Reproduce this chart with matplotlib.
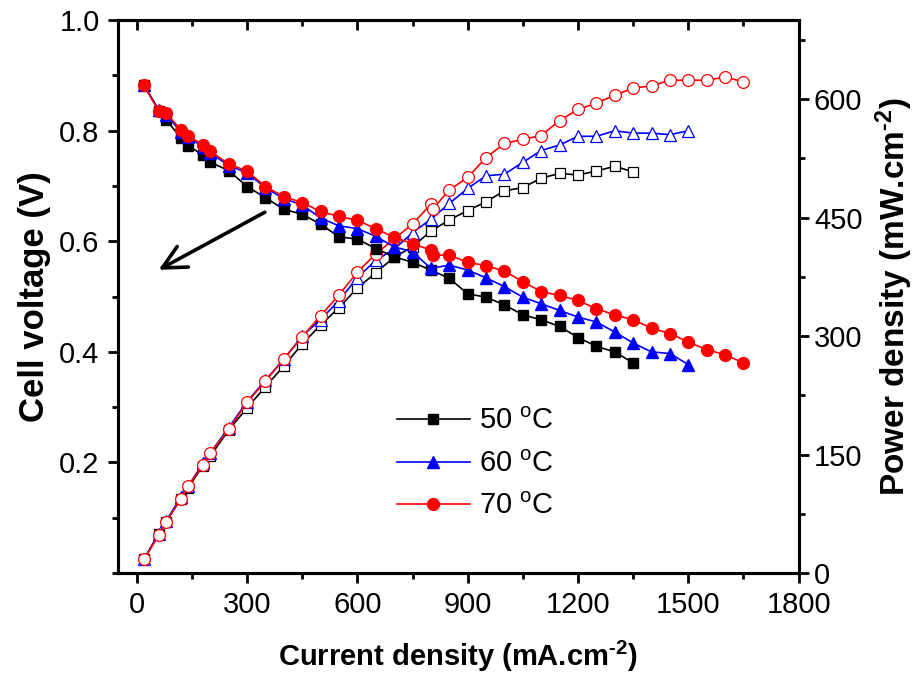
import matplotlib
matplotlib.use('Agg')
import matplotlib.pyplot as plt
from matplotlib.ticker import MultipleLocator

plt.rcParams['font.family'] = ['Liberation Sans', 'DejaVu Sans']
plt.rcParams['mathtext.default'] = 'regular'

# current density (mA/cm2)
i_50 = [20, 60, 80, 120, 140, 180, 200, 250, 300, 350, 400, 450, 500, 550, 600,
        650, 700, 750, 800, 850, 900, 950, 1000, 1050, 1100, 1150, 1200, 1250, 1300, 1350]
i_60 = i_50 + [1400, 1450, 1500]
i_70 = [20, 60, 80, 120, 140, 180, 200, 250, 300, 350, 400, 450, 500, 550, 600,
        650, 700, 750, 800, 805, 850, 900, 950, 1000, 1050, 1100, 1150, 1200, 1250,
        1300, 1350, 1400, 1450, 1500, 1550, 1600, 1650]

# cell voltage (V)
v_50 = [0.882, 0.836, 0.820, 0.787, 0.772, 0.757, 0.743, 0.728, 0.699, 0.679, 0.658,
        0.649, 0.631, 0.608, 0.604, 0.587, 0.572, 0.562, 0.548, 0.533, 0.505, 0.499,
        0.485, 0.467, 0.458, 0.446, 0.426, 0.410, 0.400, 0.380]
v_60 = [0.882, 0.838, 0.829, 0.798, 0.788, 0.771, 0.760, 0.737, 0.724, 0.697, 0.677,
        0.666, 0.642, 0.628, 0.623, 0.609, 0.590, 0.581, 0.551, 0.557, 0.548, 0.534,
        0.518, 0.499, 0.487, 0.475, 0.463, 0.454, 0.436, 0.416, 0.400, 0.397, 0.377]
v_70 = [0.882, 0.835, 0.832, 0.802, 0.790, 0.775, 0.763, 0.740, 0.727, 0.699, 0.681,
        0.670, 0.654, 0.645, 0.638, 0.623, 0.607, 0.596, 0.584, 0.575, 0.575, 0.562,
        0.556, 0.546, 0.527, 0.509, 0.502, 0.493, 0.478, 0.467, 0.458, 0.443, 0.433,
        0.418, 0.404, 0.395, 0.380]

# power density (mW/cm2)
p_50 = [17.5, 50, 65, 94, 108, 136, 148, 181, 209, 236, 262, 290, 314, 336, 361,
        380, 400, 413, 433, 447, 459, 470, 484, 488, 500, 506, 504, 509, 515, 508]
p_60 = [17.6, 50, 66, 96, 110, 139, 152, 184, 217, 244, 271, 300, 321, 345, 374,
        396, 410, 431, 448, 468, 487, 503, 505, 520, 535, 542, 553, 553, 560, 557,
        557, 555, 560]
p_70 = [17.5, 48, 65, 94, 110, 137, 152, 182, 216, 243, 271, 299, 326, 352, 381,
        404, 423, 442, 467, 461, 485, 501, 526, 544, 549, 554, 573, 587, 595, 605,
        614, 617, 624, 624, 624, 628, 622]

labels = ['50 $^{o}$C', '60 $^{o}$C', '70 $^{o}$C']
colors = ['black', '#0000ff', '#ff0000']
markers = ['s', '^', 'o']

fig = plt.figure(figsize=(9.19, 6.85), dpi=100)
ax = fig.add_axes([0.128, 0.1635, 0.741, 0.807])
ax2 = ax.twinx()

cur = [i_50, i_60, i_70]
volt = [v_50, v_60, v_70]
powr = [p_50, p_60, p_70]
msz = [7, 8, 8.5]

for i in range(3):
    ax2.plot(cur[i], powr[i], color=colors[i], marker=markers[i], ms=msz[i],
             mfc='white', mec=colors[i], mew=0.9, lw=1.2, zorder=2 + i)
for i in range(3):
    ax.plot(cur[i], volt[i], color=colors[i], marker=markers[i], ms=msz[i],
            mfc=colors[i], mec=colors[i], lw=1.2, label=labels[i], zorder=2 + i)

# left axis goes on top so the filled curves overlay
ax.set_zorder(ax2.get_zorder() + 1)
ax.patch.set_visible(False)

ax.set_xlim(-52, 1800)
ax.set_ylim(0, 1.0)
ax2.set_ylim(0, 700)

ax.xaxis.set_major_locator(MultipleLocator(300))
ax.xaxis.set_minor_locator(MultipleLocator(150))
ax.set_yticks([0.2, 0.4, 0.6, 0.8, 1.0])
ax.yaxis.set_minor_locator(MultipleLocator(0.1))
ax2.yaxis.set_major_locator(MultipleLocator(150))
ax2.yaxis.set_minor_locator(MultipleLocator(75))

fs = 21
ax.tick_params(axis='both', which='major', direction='out', length=7, width=2, labelsize=fs, pad=6)
ax.tick_params(axis='both', which='minor', direction='out', length=4, width=2)
ax.tick_params(axis='x', which='both', top=True, labeltop=False)
ax2.tick_params(axis='y', which='major', direction='out', length=7, width=2, labelsize=fs, pad=4)
ax2.tick_params(axis='y', which='minor', direction='out', length=4, width=2)
for a in (ax, ax2):
    for s in a.spines.values():
        s.set_linewidth(2.2)

# top ticks point inward
for t in ax.xaxis.get_major_ticks() + ax.xaxis.get_minor_ticks():
    t.tick2line.set_marker(3)

ax.set_xlabel('Current density (mA.cm$^{\u2010 2}$)', fontsize=fs, fontweight='bold', labelpad=14)
ax.set_ylabel('Cell voltage (V)', fontsize=25, fontweight='bold', labelpad=6)
ax2.set_ylabel('Power density (mW.cm$^{\u2010 2}$)', fontsize=24, fontweight='bold', labelpad=8)

ax.annotate('', xy=(53, 0.546), xytext=(355, 0.655),
            arrowprops=dict(arrowstyle='->', lw=2.6, color='black', mutation_scale=42))

ax.legend(loc='upper left', bbox_to_anchor=(0.41, 0.300), frameon=False,
          fontsize=fs, handlelength=2.5, handletextpad=0.3, labelspacing=0.5,
          borderpad=0, borderaxespad=0)

fig.savefig('out.png', dpi=100)
